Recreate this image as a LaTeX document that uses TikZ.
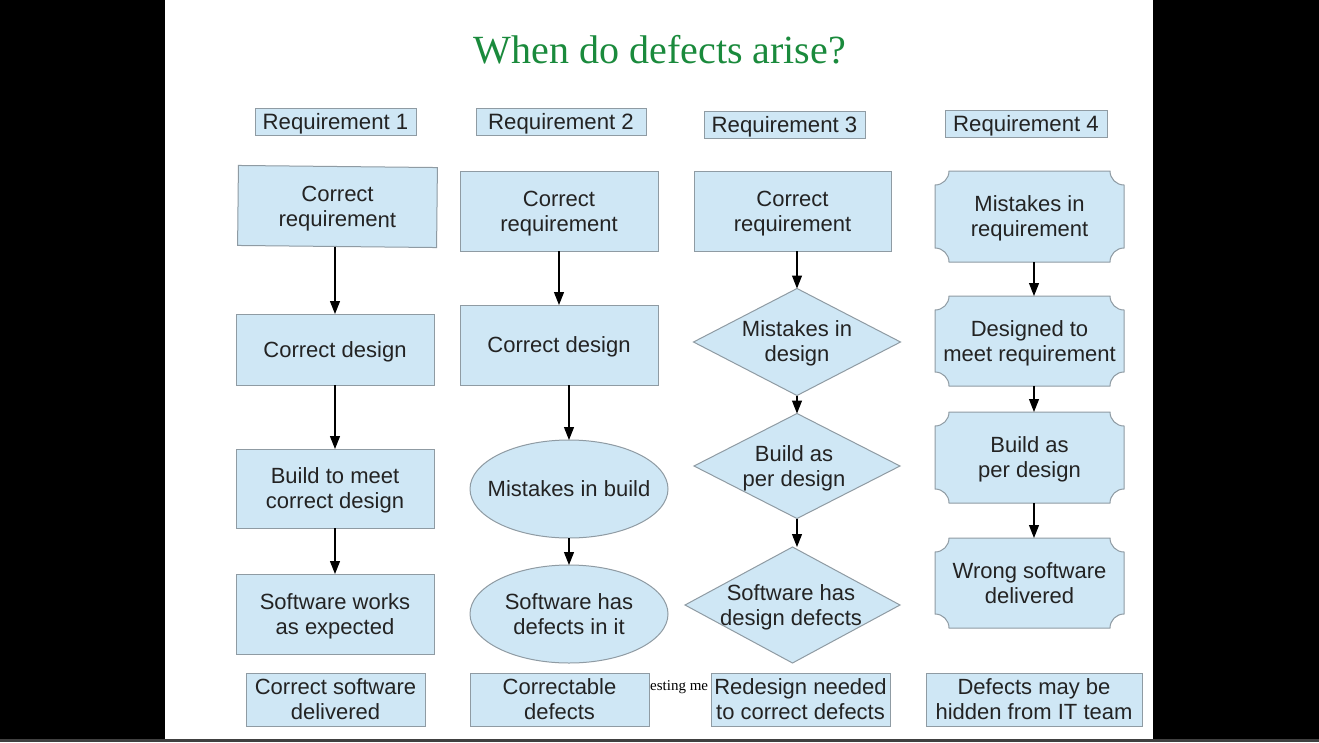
\documentclass[tikz,border=0pt]{standalone}
\usepackage{fontspec}
\setmainfont{Liberation Serif}
\newfontfamily\arialf{Liberation Sans}
\usetikzlibrary{shapes.geometric,arrows.meta}
\definecolor{boxfill}{HTML}{CFE7F5}
\definecolor{boxline}{HTML}{8F9BA3}
\definecolor{titlegreen}{HTML}{1A8A3C}
\definecolor{txt}{HTML}{232323}
\makeatletter
\newdimen\plqxa \newdimen\plqya \newdimen\plqxb \newdimen\plqyb \newdimen\plqr
\newdimen\plqxc \newdimen\plqyc \newdimen\plqxd \newdimen\plqyd
\pgfdeclareshape{plaque}{
  \inheritsavedanchors[from=rectangle]
  \inheritanchorborder[from=rectangle]
  \inheritanchor[from=rectangle]{center}
  \inheritanchor[from=rectangle]{north}
  \inheritanchor[from=rectangle]{south}
  \inheritanchor[from=rectangle]{east}
  \inheritanchor[from=rectangle]{west}
  \inheritanchor[from=rectangle]{north east}
  \inheritanchor[from=rectangle]{north west}
  \inheritanchor[from=rectangle]{south east}
  \inheritanchor[from=rectangle]{south west}
  \backgroundpath{
    \southwest \plqxa=\pgf@x \plqya=\pgf@y
    \northeast \plqxb=\pgf@x \plqyb=\pgf@y
    \plqr=14pt
    \plqxc=\plqxa \advance\plqxc by\plqr
    \plqxd=\plqxb \advance\plqxd by-\plqr
    \plqyc=\plqya \advance\plqyc by\plqr
    \plqyd=\plqyb \advance\plqyd by-\plqr
    \pgfpathmoveto{\pgfqpoint{\plqxc}{\plqyb}}
    \pgfpathlineto{\pgfqpoint{\plqxd}{\plqyb}}
    \pgfpatharc{180}{270}{\plqr}
    \pgfpathlineto{\pgfqpoint{\plqxb}{\plqyc}}
    \pgfpatharc{90}{180}{\plqr}
    \pgfpathlineto{\pgfqpoint{\plqxc}{\plqya}}
    \pgfpatharc{0}{90}{\plqr}
    \pgfpathlineto{\pgfqpoint{\plqxa}{\plqyd}}
    \pgfpatharc{270}{360}{\plqr}
    \pgfpathclose
  }
}
\makeatother
\tikzset{
  box/.style={draw=boxline, fill=boxfill, line width=1pt, text=txt,
    font=\arialf\fontsize{22}{25}\selectfont, align=center,
    inner sep=0pt, outer sep=0pt, text depth=0pt},
  rbox/.style={box, rectangle, minimum width=198pt, minimum height=80pt},
  hdr/.style={box, rectangle, font=\arialf\fontsize{22.2}{25}\selectfont, minimum height=27pt},
  endbox/.style={box, rectangle, minimum height=53pt},
  plq/.style={box, shape=plaque, minimum width=189pt},
  ell/.style={box, ellipse, minimum width=198pt, minimum height=98pt},
  diam/.style={box, diamond},
  lbl/.style={text=txt, font=\arialf\fontsize{22}{25}\selectfont, align=center, inner sep=0pt, text depth=0pt},
  arr/.style={line width=1.1pt, draw=black, -{Triangle[width=10pt,length=13pt]}}
}
\begin{document}
\begin{tikzpicture}[x=1pt,y=-1pt]
\useasboundingbox (0,0) rectangle (1319,742);
\fill[black] (0,0) rectangle (1319,742);
\fill[white] (165,0) rectangle (1153,739);
\fill[black!75] (0,739) rectangle (1319,742);

\node[text=titlegreen, font=\fontsize{40}{44}\selectfont, inner sep=0pt] (title) at (660,50) {When do defects arise?};

% headers
\node[hdr, minimum width=161pt] (h1) at (335.5,121.5) {Requirement 1};
\node[hdr, minimum width=170pt] (h2) at (561,121.5) {Requirement 2};
\node[hdr, minimum width=161pt] (h3) at (784.5,124.5) {Requirement 3};
\node[hdr, minimum width=162pt] (h4) at (1026,123.5) {Requirement 4};

% column 1
\node[rbox, minimum width=199pt, rotate=-0.6] (c1a) at (337.5,206.5) {Correct\\requirement};
\node[rbox, minimum height=71pt] (c1b) at (335,349.5) {Correct design};
\node[rbox, minimum height=79pt] (c1c) at (335,488.5) {Build to meet\\correct design};
\node[rbox] (c1d) at (335,614) {Software works\\as expected};
\node[endbox, minimum width=179pt] (c1e) at (335.5,699.5) {Correct software\\delivered};
\draw[arr] (c1a.south -| c1b.north) -- (c1b.north);
\draw[arr] (c1b.south) -- (c1c.north);
\draw[arr] (c1c.south) -- (c1d.north);

% column 2
\node[rbox] (c2a) at (559,211) {Correct\\requirement};
\node[rbox] (c2b) at (559,345) {Correct design};
\node[ell] (e1) at (569,489) {};
\node[lbl] (e1t) at (e1) {Mistakes in build};
\node[ell] (e2) at (569,614) {};
\node[lbl] (e2t) at (e2) {Software has\\defects in it};
\node[endbox, minimum width=179pt] (c2e) at (559.5,699.5) {Correctable\\defects};
\draw[arr] (c2a.south) -- (c2b.north);
\draw[arr] (c2b.south -| e1.north) -- (e1.north);
\draw[arr] (e1.south) -- (e2.north);

% column 3
\node[rbox, minimum width=197pt] (c3a) at (792.5,211) {Correct\\requirement};
\node[diam, minimum width=207pt, minimum height=107pt] (d1) at (797,342) {};
\node[lbl] (d1t) at (797,341) {Mistakes in\\design};
\node[diam, minimum width=206pt, minimum height=105pt] (d2) at (797,466) {};
\node[lbl] (d2t) at (794,466) {Build as\\per design};
\node[diam, minimum width=215pt, minimum height=116pt] (d3) at (792.5,605) {};
\node[lbl] (d3t) at (791,605) {Software has\\design defects};
\node[anchor=west, font=\fontsize{15}{15}\selectfont, text=black, inner sep=0pt] (stray) at (650,687) {esting me};
\node[endbox, minimum width=179pt] (c3e) at (800.5,699.5) {Redesign needed\\to correct defects};
\draw[arr] (c3a.south -| d1.north) -- (d1.north);
\draw[arr] (d1.south) -- (d2.north);
\draw[arr] (d2.south) -- (d2.south |- d3.north);

% column 4
\node[plq, minimum height=91pt] (p1) at (1029.5,216.5) {Mistakes in\\requirement};
\node[plq, minimum height=90pt] (p2) at (1029.5,341) {Designed to\\meet requirement};
\node[plq, minimum height=91pt] (p3) at (1029.5,457.5) {Build as\\per design};
\node[plq, minimum height=90pt] (p4) at (1029.5,583) {Wrong software\\delivered};
\node[endbox, minimum width=216pt] (c4e) at (1034,699.5) {Defects may be\\hidden from IT team};
\draw[arr] ([xshift=4.5pt]p1.south) -- ([xshift=4.5pt]p2.north);
\draw[arr] ([xshift=4.5pt]p2.south) -- ([xshift=4.5pt]p3.north);
\draw[arr] ([xshift=4.5pt]p3.south) -- ([xshift=4.5pt]p4.north);
\end{tikzpicture}
\end{document}
